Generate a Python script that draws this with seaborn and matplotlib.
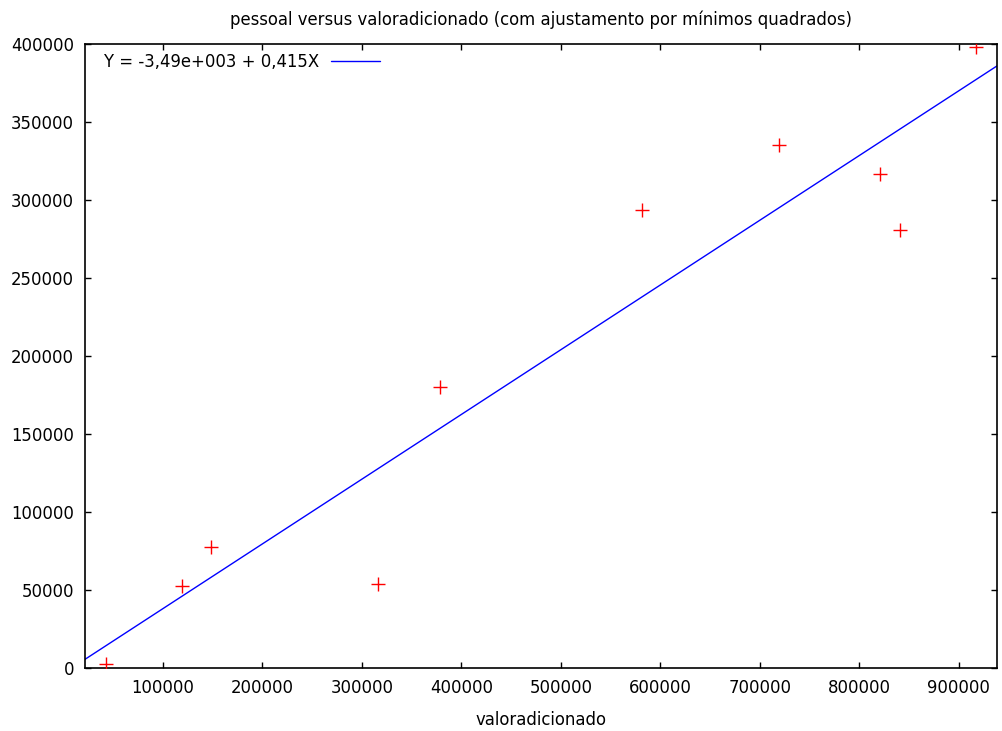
import matplotlib
matplotlib.use("Agg")
import matplotlib.pyplot as plt
import seaborn as sns
import pandas as pd

# data
valoradicionado = [43400, 119100, 148200, 316100, 378100, 582100, 719800, 820600, 840700, 917000]
pessoal = [2750, 52500, 77800, 53800, 180000, 293300, 335400, 316400, 281000, 397900]
intercept = -3490
slope = 0.415
x_range = [21800, 938400]
x_ticks = [100000, 200000, 300000, 400000, 500000, 600000, 700000, 800000, 900000]
y_ticks = [0, 50000, 100000, 150000, 200000, 250000, 300000, 350000, 400000]

sns.set_theme(style="ticks")
plt.rcParams['font.family'] = ['DejaVu Sans']
plt.rcParams['xtick.direction'] = 'in'
plt.rcParams['ytick.direction'] = 'in'
fs = 11.9

df = pd.DataFrame({"valoradicionado": valoradicionado, "pessoal": pessoal})
fit = pd.DataFrame({"x": x_range})
fit["y"] = intercept + slope * fit["x"]

fig = plt.figure(figsize=(10.02, 7.31), dpi=100)
ax = fig.add_axes([85 / 1002, 1 - 668 / 731, 912 / 1002, 624 / 731])

sns.scatterplot(data=df, x="valoradicionado", y="pessoal", marker="+", s=100,
                color="#ff0000", linewidth=1, ax=ax, zorder=3)
sns.lineplot(data=fit, x="x", y="y", color="#0000ff", linewidth=1, ax=ax,
             label="Y = -3,49e+003 + 0,415X")

ax.set_xlim(x_range)
ax.set_ylim(0, 400000)
ax.set_xticks(x_ticks)
ax.set_yticks(y_ticks)
ax.set_xticklabels([str(t) for t in x_ticks])
ax.set_yticklabels([str(t) for t in y_ticks])
ax.tick_params(axis="both", which="both", length=4.5, width=1, color="black",
               labelsize=fs, labelcolor="black", top=True, right=True, pad=8)
for sp in ax.spines.values():
    sp.set_linewidth(1.2)
    sp.set_color("black")

ax.set_xlabel("valoradicionado", fontsize=fs, labelpad=10, color="black")
ax.set_ylabel("")
ax.set_title("pessoal versus valoradicionado (com ajustamento por mínimos quadrados)",
             fontsize=fs, pad=14, color="black")

leg = ax.legend(loc="upper left", frameon=False, markerfirst=False,
                handlelength=3.0, handletextpad=0.7, fontsize=fs,
                bbox_to_anchor=(0.008, 1.004), borderaxespad=0.3)
for t in leg.get_texts():
    t.set_color("black")

fig.savefig("out.png", dpi=100)
